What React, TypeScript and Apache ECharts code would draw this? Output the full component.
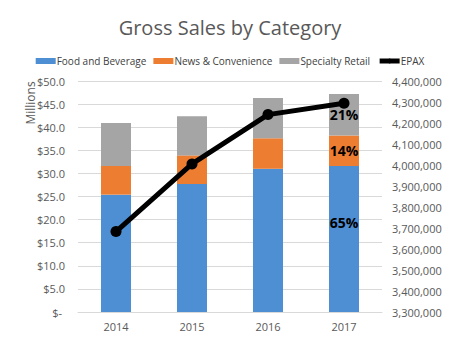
import React, { useEffect, useRef } from "react";
import * as echarts from "echarts";

const years = ["2014", "2015", "2016", "2017"];
const foodBeverage = [25.4, 27.7, 31.0, 31.6];
const newsConvenience = [6.2, 6.2, 6.6, 6.6];
const specialtyRetail = [9.3, 8.45, 8.7, 9.0];
const epax = [3683000, 4005000, 4240000, 4294000];
const lastYearShares = ["65%", "14%", "21%"];

const FONT = "'Open Sans', 'Noto Sans', sans-serif";

export default function App() {
  const ref = useRef<HTMLDivElement>(null);

  useEffect(() => {
    document.body.style.margin = "0";
    const chart = echarts.init(ref.current!, null, { renderer: "svg" });

    const withLabel = (arr: number[], shareIdx: number, offsetY: number) =>
      arr.map((v, i) =>
        i === arr.length - 1
          ? {
              value: v,
              label: {
                show: true,
                position: "inside",
                formatter: lastYearShares[shareIdx],
                color: "#000",
                fontWeight: "bold",
                fontSize: 14,
                fontFamily: FONT,
                offset: [0, offsetY],
              },
            }
          : v
      );

    chart.setOption({
      animation: false,
      textStyle: { fontFamily: FONT },
      title: {
        text: "Gross Sales by Category",
        left: "center",
        top: 12,
        textStyle: { fontSize: 20, fontWeight: "normal", color: "#595959", fontFamily: FONT },
      },
      legend: {
        top: 51,
        left: "center",
        itemWidth: 20,
        itemHeight: 6,
        itemGap: 7,
        textStyle: { fontSize: 10, color: "#404040", fontFamily: FONT, padding: [0, 0, 0, -4] },
        data: [
          { name: "Food and Beverage", icon: "rect" },
          { name: "News & Convenience", icon: "rect" },
          { name: "Specialty Retail", icon: "rect" },
          { name: "EPAX", lineStyle: { width: 5, color: "#000" }, itemStyle: { color: "#000" } },
        ],
      },
      grid: { left: 78, right: 78, top: 81, bottom: 48 },
      xAxis: {
        type: "category",
        data: years,
        axisTick: { show: false },
        axisLine: { lineStyle: { color: "#d9d9d9" } },
        axisLabel: { color: "#595959", fontSize: 11, margin: 9, fontFamily: FONT },
      },
      yAxis: [
        {
          type: "value",
          min: 0,
          max: 50,
          interval: 5,
          axisLine: { show: false },
          axisTick: { show: false },
          splitLine: { lineStyle: { color: "#d9d9d9" } },
          axisLabel: {
            color: "#595959",
            fontSize: 11,
            margin: 13,
            fontFamily: FONT,
            formatter: (v: number) => (v === 0 ? "$- " : "$" + v.toFixed(1)),
          },
        },
        {
          type: "value",
          min: 3300000,
          max: 4400000,
          interval: 100000,
          axisLine: { show: false },
          axisTick: { show: false },
          splitLine: { show: false },
          axisLabel: {
            color: "#595959",
            fontSize: 11,
            margin: 10,
            fontFamily: FONT,
            formatter: (v: number) => v.toLocaleString("en-US"),
          },
        },
      ],
      graphic: [
        {
          type: "text",
          x: 30,
          y: 103,
          rotation: Math.PI / 2,
          style: {
            text: "Millions",
            fontSize: 12,
            fill: "#595959",
            fontFamily: FONT,
            textAlign: "center",
            textVerticalAlign: "middle",
          },
        },
      ],
      series: [
        {
          name: "Food and Beverage",
          type: "bar",
          stack: "sales",
          barWidth: 30,
          itemStyle: { color: "#4E8FD4" },
          data: withLabel(foodBeverage, 0, -17),
        },
        {
          name: "News & Convenience",
          type: "bar",
          stack: "sales",
          barWidth: 30,
          itemStyle: { color: "#ED7D31" },
          data: withLabel(newsConvenience, 1, 0),
        },
        {
          name: "Specialty Retail",
          type: "bar",
          stack: "sales",
          barWidth: 30,
          itemStyle: { color: "#A5A5A5" },
          data: withLabel(specialtyRetail, 2, 0),
        },
        {
          name: "EPAX",
          type: "line",
          yAxisIndex: 1,
          data: epax,
          symbol: "circle",
          symbolSize: 11,
          lineStyle: { color: "#000", width: 5 },
          itemStyle: { color: "#000" },
          z: 10,
        },
      ],
    });

    return () => chart.dispose();
  }, []);

  return <div ref={ref} style={{ width: 460, height: 360 }} />;
}
